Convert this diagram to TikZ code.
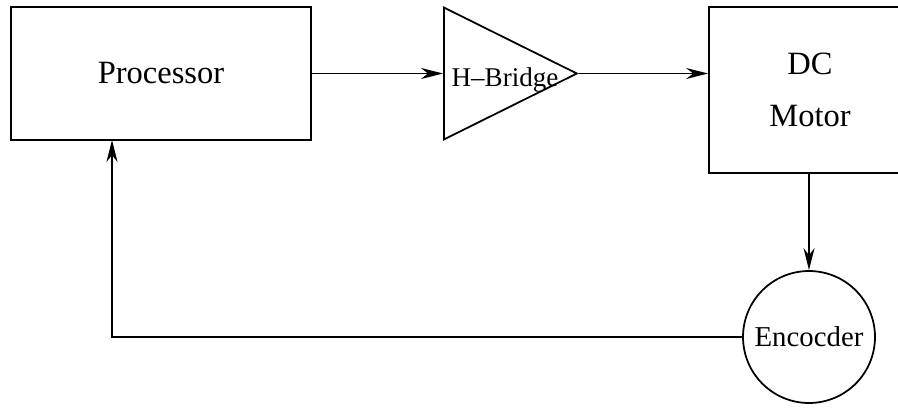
\documentclass[tikz,border=0pt]{standalone}
\usepackage{fontspec}
\setmainfont{Liberation Serif}
\usetikzlibrary{positioning,arrows.meta,shapes.geometric}

\begin{document}
\begin{tikzpicture}[x=0.02cm,y=-0.02cm,line width=1pt,>={Stealth[length=4.4mm,width=2.2mm,inset=1.4mm]},
  blockbox/.style={draw,inner sep=0pt,font=\fontsize{18.5}{29.5}\selectfont,align=center}]
\useasboundingbox (0,0) rectangle (898,409);
\clip (0,0) rectangle (898,409);
\node[blockbox,minimum width=6cm,minimum height=2.66cm] (proc) at (161,73.5) {Processor};
\node[draw,isosceles triangle,isosceles triangle stretches,shape border rotate=0,
  minimum width=2.64cm,minimum height=2.66cm,inner sep=0pt,anchor=lower side] (hb) at (443,73.5) {};
\node[font=\fontsize{15.4}{18}\selectfont] (hbtext) at (505,80) {H--Bridge};
\node[blockbox,minimum width=4.04cm,minimum height=3.32cm] (motor) at (810,90) {DC\\Motor};
\node[draw,circle,minimum size=2.64cm,inner sep=0pt,font=\fontsize{16.4}{20}\selectfont] (enc) at (809,337) {Encocder};
\coordinate (procin) at (112,140);
\draw[->] (proc.east |- hb.lower side) -- (hb.lower side);
\draw[->] (hb.apex) -- (hb.apex -| motor.west);
\draw[->] (enc.north |- motor.south) -- (enc.north);
\draw[->] (enc.west) -| (procin);
\end{tikzpicture}
\end{document}
